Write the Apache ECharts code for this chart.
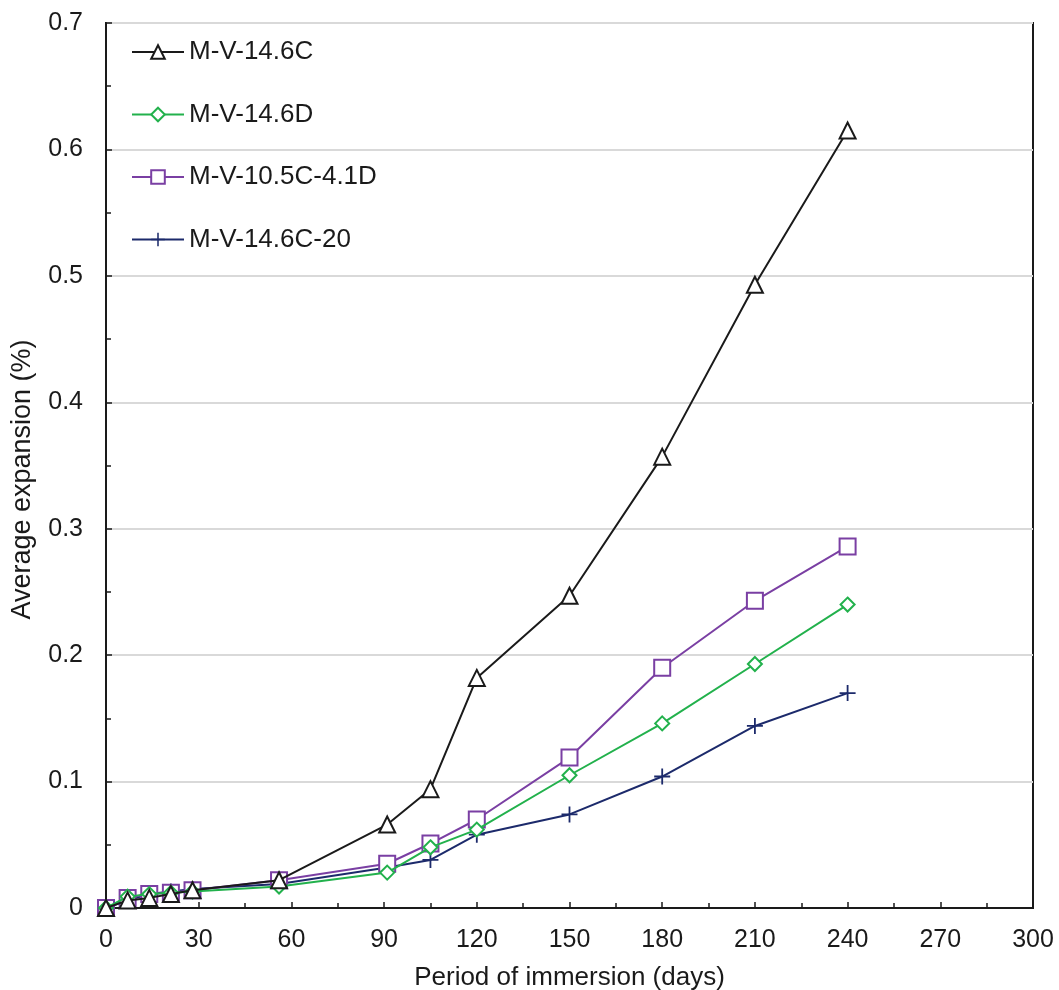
<!DOCTYPE html>
<html>
<head>
<meta charset="utf-8">
<script src="https://cdn.jsdelivr.net/npm/echarts@6/dist/echarts.min.js"></script>
<style>html,body{margin:0;padding:0;background:#fff;}#c{width:1059px;height:990px;}</style>
</head>
<body>
<div id="c"></div>
<script>
var days = [0, 7, 14, 21, 28, 56, 91, 105, 120, 150, 180, 210, 240];
var seriesNames = ['M-V-14.6C', 'M-V-14.6D', 'M-V-10.5C-4.1D', 'M-V-14.6C-20'];
var mv146C   = [0, 0.006, 0.008, 0.011, 0.014, 0.022, 0.066, 0.094, 0.182, 0.247, 0.357, 0.493, 0.615];
var mv146D   = [0, 0.009, 0.011, 0.012, 0.013, 0.017, 0.028, 0.048, 0.062, 0.105, 0.146, 0.193, 0.240];
var mv105C41D= [0, 0.008, 0.011, 0.012, 0.014, 0.022, 0.035, 0.051, 0.070, 0.119, 0.190, 0.243, 0.286];
var mv146C20 = [0, 0.006, 0.011, 0.013, 0.015, 0.019, 0.032, 0.038, 0.058, 0.074, 0.104, 0.144, 0.170];
var xTicks = [0, 30, 60, 90, 120, 150, 180, 210, 240, 270, 300];
var yTicks = [0, 0.1, 0.2, 0.3, 0.4, 0.5, 0.6, 0.7];

function pairs(vals){ return days.map(function(d,i){ return [d, vals[i]]; }); }
var plusPath = 'path://M7.1,0H8.9V7.1H16V8.9H8.9V16H7.1V8.9H0V7.1H7.1Z';
var colors = ['#1a1a1a', '#22b14c', '#7a3fa3', '#1c2a6b'];
var symbols = ['emptyTriangle', 'emptyDiamond', 'emptyRect', plusPath];
var sizes = [16, 14, 16, 16];
var borders = [1.8, 1.8, 1.8, 0];
var allVals = [mv146C, mv146D, mv105C41D, mv146C20];

var font = 'Liberation Sans, Arial, sans-serif';
var chart = echarts.init(document.getElementById('c'), null, {renderer: 'canvas'});
chart.setOption({
  backgroundColor: '#fff',
  animation: false,
  grid: {left: 106, right: 26, top: 23, bottom: 82, containLabel: false, outerBoundsMode: 'none',
    show: true, borderColor: '#1a1a1a', borderWidth: 2, backgroundColor: 'transparent'},
  legend: {
    orient: 'vertical', left: 131, top: 39, padding: 0, itemGap: 36.5, itemWidth: 52, itemHeight: 17,
    textStyle: {fontFamily: font, fontSize: 26, color: '#1a1a1a', padding: [0,0,0,0]},
    data: seriesNames
  },
  xAxis: {
    type: 'value', min: 0, max: 300, interval: 30,
    name: 'Period of immersion (days)', nameLocation: 'middle', nameGap: 57,
    nameTextStyle: {fontFamily: font, fontSize: 26, color: '#1a1a1a'},
    axisLine: {show: true, lineStyle: {color: '#1a1a1a', width: 2}},
    axisTick: {show: true, inside: true, length: 6, lineStyle: {color: '#1a1a1a', width: 1.5}},
    minorTick: {show: true, splitNumber: 2, length: 5, lineStyle: {color: '#1a1a1a', width: 1.5}},
    axisLabel: {fontFamily: font, fontSize: 25, color: '#1a1a1a', margin: 20,
      formatter: function(v){ return xTicks.indexOf(v) >= 0 ? String(v) : ''; }},
    splitLine: {show: false}
  },
  yAxis: {
    type: 'value', min: 0, max: 0.7, interval: 0.1,
    name: 'Average expansion (%)', nameLocation: 'middle', nameGap: 70, nameRotate: 90,
    nameTextStyle: {fontFamily: font, fontSize: 27, color: '#1a1a1a', padding: [0, 28, 0, 0]},
    axisLine: {show: true, lineStyle: {color: '#1a1a1a', width: 2}},
    axisTick: {show: true, inside: true, length: 6, lineStyle: {color: '#1a1a1a', width: 1.5}},
    minorTick: {show: true, splitNumber: 2, length: 5, lineStyle: {color: '#1a1a1a', width: 1.5}},
    axisLabel: {fontFamily: font, fontSize: 25, color: '#1a1a1a', margin: 23,
      formatter: function(v){ var r = Math.round(v*10)/10; return yTicks.indexOf(r) >= 0 ? String(r) : ''; }},
    splitLine: {show: true, lineStyle: {color: '#d9d9d9', width: 2}}
  },
  series: seriesNames.map(function(n, i){
    return {
      name: n, type: 'line', data: pairs(allVals[i]),
      symbol: symbols[i], symbolSize: sizes[i],
      lineStyle: {color: colors[i], width: 2},
      itemStyle: {color: colors[i], borderColor: colors[i], borderWidth: borders[i]},
      emphasis: {disabled: true}, z: 10 - i
    };
  })
});
</script>
</body>
</html>
